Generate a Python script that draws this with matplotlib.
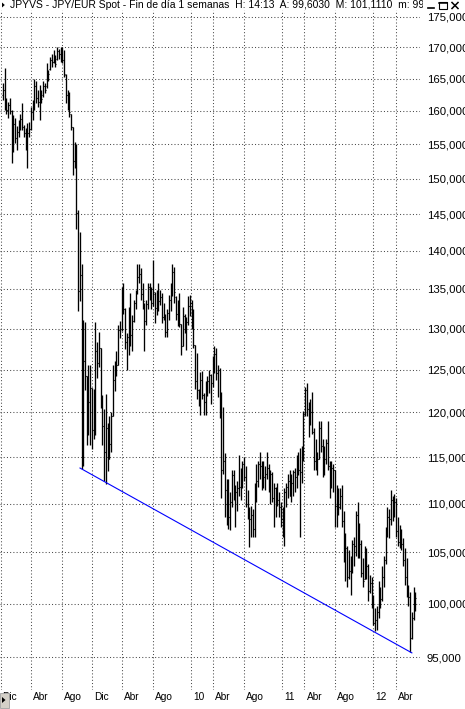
import matplotlib
matplotlib.use("Agg")
import matplotlib.pyplot as plt
import matplotlib.dates as mdates
from matplotlib.lines import Line2D
from matplotlib.patches import Rectangle, Polygon
from matplotlib.ticker import FixedLocator, FixedFormatter, NullLocator
import pandas as pd

plt.rcParams["font.family"] = ["Liberation Sans", "DejaVu Sans"]
plt.rcParams["lines.scale_dashes"] = False

# Weekly JPY/EUR bars, first week starting 2007-12-10
first_week = "2007-12-10"

highs = [
    164.3, 166.7, 162.0, 161.4, 162.0, 160.1, 159.4, 158.9, 157.7, 158.6,
    159.6, 161.2, 157.9, 157.4, 158.1, 158.3, 160.6, 161.7, 165.0, 164.7,
    163.2, 164.0, 163.2, 164.7, 164.3, 167.5, 166.4, 168.4, 169.0, 169.5,
    168.8, 170.0, 169.8, 170.1, 170.0, 169.5, 165.8, 163.2, 162.9, 159.6,
    157.6, 155.3, 155.1, 145.6, 142.5, 138.3, 131.1, 130.8, 124.3, 125.6,
    125.6, 122.8, 122.7, 130.8, 128.3, 129.6, 127.6, 122.0, 120.4, 122.1,
    118.8, 119.6, 120.0, 125.6, 126.0, 127.2, 130.5, 131.0, 135.3, 135.8,
    132.6, 129.5, 132.7, 134.5, 131.7, 133.6, 134.9, 138.3, 138.3, 137.7,
    135.8, 133.2, 133.6, 135.8, 135.8, 135.3, 138.8, 134.6, 134.9, 135.8,
    134.9, 134.5, 133.2, 131.8, 132.4, 134.2, 135.8, 138.3, 137.8, 134.1,
    133.6, 134.5, 130.6, 132.7, 131.8, 131.4, 134.1, 134.2, 133.6, 132.4,
    128.0, 127.0, 122.7, 124.7, 124.8, 122.3, 123.6, 124.3, 125.0, 124.5,
    126.6, 127.8, 127.6, 125.6, 125.2, 122.4, 120.6, 115.4, 112.6, 112.6,
    111.2, 113.6, 113.6, 112.0, 112.4, 115.2, 113.8, 114.6, 115.0, 114.0,
    111.4, 109.6, 109.8, 109.4, 112.2, 114.2, 114.6, 115.6, 114.6, 114.6,
    114.0, 115.6, 114.2, 113.6, 113.4, 112.2, 111.8, 112.2, 111.2, 110.2,
    109.6, 111.6, 112.2, 113.2, 113.6, 113.2, 113.6, 113.8, 115.2, 115.6,
    116.0, 116.2, 120.2, 123.0, 123.4, 121.2, 121.6, 122.4, 118.2, 117.0,
    115.6, 119.0, 119.0, 117.0, 116.2, 117.0, 119.0, 114.6, 114.6, 114.2,
    113.6, 112.0, 111.6, 111.6, 112.0, 109.2, 107.0, 105.6, 105.2, 104.6,
    106.2, 106.6, 109.2, 110.2, 108.0, 106.2, 104.4, 105.6, 105.4, 103.8,
    102.8, 102.6, 100.8, 99.6, 99.8, 102.2, 101.6, 103.6, 104.6, 107.6,
    109.6, 109.4, 111.4, 110.8, 111.0, 110.6, 108.6, 107.8, 107.4, 106.4,
    105.4, 104.4, 101.8, 101.1, 99.2, 101.6, 101.111,
]

lows = [
    161.7, 160.1, 159.6, 158.9, 159.5, 152.3, 153.9, 155.2, 154.2, 156.1,
    157.1, 157.1, 156.1, 154.2, 151.5, 156.1, 157.1, 158.6, 160.1, 161.2,
    160.6, 158.6, 161.2, 162.1, 162.7, 163.6, 164.6, 166.4, 166.9, 167.5,
    166.9, 168.0, 168.2, 167.7, 167.5, 165.2, 161.2, 160.1, 159.1, 157.1,
    150.5, 151.5, 142.9, 132.2, 133.4, 113.7, 114.0, 122.6, 116.3, 117.4,
    116.3, 115.9, 117.0, 117.4, 124.0, 125.3, 120.5, 116.3, 112.4, 112.1,
    113.5, 114.8, 115.5, 119.6, 122.5, 124.2, 125.5, 128.8, 129.7, 131.8,
    127.5, 125.0, 126.7, 127.8, 127.3, 130.8, 132.4, 134.4, 135.8, 133.6,
    132.4, 127.3, 130.5, 132.4, 133.6, 132.4, 132.8, 130.7, 131.7, 132.2,
    133.0, 130.7, 131.1, 128.9, 128.9, 131.1, 132.2, 134.1, 133.2, 131.1,
    130.3, 130.2, 126.7, 127.8, 129.5, 127.4, 130.5, 131.6, 129.9, 127.6,
    122.7, 121.5, 120.7, 119.7, 121.5, 119.7, 119.7, 121.9, 122.3, 121.0,
    123.0, 124.6, 123.8, 121.8, 119.4, 110.6, 113.2, 108.6, 107.8, 107.4,
    107.3, 109.6, 110.4, 107.6, 109.2, 110.8, 110.4, 111.6, 112.4, 109.6,
    108.4, 105.5, 106.6, 106.6, 106.6, 110.2, 111.8, 112.6, 111.4, 111.6,
    111.4, 112.6, 111.2, 110.0, 110.2, 107.6, 108.6, 109.8, 108.6, 107.6,
    106.6, 105.6, 109.6, 110.6, 110.8, 110.2, 110.8, 111.2, 111.6, 113.0,
    106.6, 112.2, 114.6, 119.6, 119.6, 117.2, 118.6, 117.6, 113.6, 113.6,
    113.0, 114.8, 115.6, 112.8, 113.0, 114.2, 113.6, 110.6, 111.6, 111.2,
    107.6, 107.6, 108.8, 109.4, 107.6, 104.0, 102.2, 101.6, 102.4, 100.8,
    103.0, 103.6, 104.6, 104.4, 104.4, 102.6, 101.6, 102.4, 102.4, 100.2,
    101.0, 99.6, 98.0, 97.4, 97.5, 98.6, 99.6, 100.2, 101.6, 103.8,
    106.6, 106.4, 107.8, 108.2, 108.6, 106.6, 105.6, 105.4, 105.2, 103.6,
    101.8, 100.6, 99.8, 95.5, 96.7, 98.4, 99.3,
]

opens = [
    162.4, 163.2, 161.6, 160.2, 160.9, 160.0, 154.5, 158.0, 155.9, 156.8,
    157.6, 158.8, 157.5, 156.6, 155.0, 156.6, 157.2, 159.9, 160.6, 163.9,
    162.0, 161.4, 162.7, 162.4, 163.9, 163.9, 165.4, 166.6, 167.9, 167.6,
    168.6, 168.2, 169.4, 168.9, 169.8, 168.0, 165.6, 162.4, 161.1, 159.6,
    157.6, 152.6, 153.8, 145.2, 134.8, 136.8, 116.2, 126.0, 124.2, 118.6,
    121.2, 122.8, 118.0, 121.4, 127.2, 125.8, 127.6, 121.4, 118.4, 115.6,
    118.2, 114.8, 116.4, 119.6, 123.8, 124.8, 125.6, 129.8, 130.0, 134.2,
    132.4, 128.4, 128.9, 131.6, 129.2, 131.0, 133.2, 134.6, 136.6, 136.9,
    134.3, 132.4, 131.0, 133.1, 135.2, 134.4, 133.2, 134.4, 132.6, 134.2,
    133.4, 134.0, 131.4, 131.6, 129.6, 131.9, 133.6, 135.1, 137.2, 134.0,
    131.8, 132.9, 130.6, 127.8, 131.6, 130.0, 130.8, 132.8, 133.2, 130.6,
    128.0, 123.6, 122.6, 121.4, 123.8, 122.0, 121.2, 122.8, 123.6, 124.4,
    123.4, 126.2, 126.9, 124.6, 124.9, 121.4, 113.6, 114.6, 111.4, 111.0,
    108.6, 110.2, 113.0, 110.8, 111.2, 111.6, 111.8, 112.8, 114.2, 112.8,
    110.0, 108.6, 108.4, 108.8, 107.4, 111.8, 112.4, 114.2, 114.0, 113.2,
    112.8, 113.2, 113.8, 111.6, 113.2, 110.6, 111.6, 110.2, 110.4, 109.6,
    108.4, 107.4, 111.2, 111.8, 112.4, 110.8, 112.2, 113.4, 112.8, 114.8,
    113.6, 113.4, 115.0, 119.8, 122.6, 120.4, 120.8, 120.0, 117.8, 114.6,
    115.4, 114.8, 118.2, 116.2, 115.4, 114.8, 116.6, 114.0, 112.4, 113.8,
    113.6, 109.8, 110.6, 109.6, 110.8, 108.2, 104.4, 105.4, 102.6, 103.2,
    104.0, 105.8, 105.6, 108.8, 105.6, 105.8, 103.0, 102.4, 104.2, 103.6,
    101.2, 102.0, 99.8, 98.2, 98.4, 99.2, 101.4, 100.4, 102.6, 104.2,
    107.4, 108.6, 108.4, 110.4, 109.6, 110.2, 107.2, 106.0, 106.6, 105.8,
    104.2, 102.6, 101.0, 100.6, 96.8, 98.6, 99.603,
]

closes = [
    163.2, 164.4, 160.2, 160.9, 160.0, 154.5, 158.0, 155.9, 156.8, 157.6,
    158.8, 157.5, 156.6, 155.0, 156.6, 157.2, 159.9, 160.6, 163.9, 162.0,
    161.4, 162.7, 161.8, 163.9, 163.2, 166.7, 165.8, 167.9, 167.6, 168.9,
    167.4, 169.4, 168.9, 169.8, 168.0, 165.8, 162.4, 161.1, 159.9, 157.6,
    152.6, 153.8, 145.2, 134.8, 136.8, 116.2, 126.0, 124.2, 118.6, 121.2,
    122.8, 118.0, 121.4, 127.2, 125.8, 127.6, 121.4, 118.4, 115.6, 118.2,
    114.8, 116.4, 119.6, 123.8, 124.8, 125.6, 129.8, 130.0, 134.2, 132.4,
    128.4, 128.9, 131.6, 129.2, 131.0, 133.2, 134.6, 136.6, 136.9, 134.3,
    133.4, 131.0, 133.1, 135.2, 134.4, 133.2, 134.6, 132.6, 134.2, 133.4,
    134.0, 131.4, 131.6, 129.6, 131.9, 133.6, 135.1, 137.2, 134.6, 131.8,
    132.9, 130.6, 127.8, 131.6, 130.0, 130.8, 132.8, 133.2, 130.6, 128.0,
    123.6, 122.6, 121.4, 123.8, 122.0, 121.2, 122.8, 123.6, 124.4, 123.4,
    126.2, 126.9, 124.6, 124.9, 121.4, 113.6, 114.6, 111.4, 111.0, 108.6,
    110.2, 113.0, 110.8, 111.2, 111.6, 111.8, 112.8, 114.2, 112.8, 110.0,
    108.6, 108.4, 108.8, 107.4, 111.8, 112.4, 114.2, 114.0, 113.2, 112.8,
    113.2, 113.8, 111.6, 113.2, 110.6, 111.6, 110.2, 110.4, 109.6, 108.4,
    107.4, 111.2, 111.8, 112.4, 110.8, 112.2, 113.4, 112.8, 114.8, 113.6,
    113.4, 115.0, 119.8, 122.6, 120.4, 120.8, 120.0, 117.8, 114.6, 115.4,
    114.8, 118.2, 116.2, 115.4, 114.8, 116.6, 114.0, 112.4, 113.8, 113.6,
    109.8, 110.6, 109.6, 110.8, 108.2, 104.4, 105.4, 102.6, 103.2, 104.0,
    105.8, 105.6, 108.8, 105.6, 105.8, 103.0, 102.2, 104.2, 103.6, 101.2,
    102.0, 99.8, 98.2, 98.4, 99.2, 101.4, 100.4, 102.6, 104.2, 107.4,
    108.6, 108.4, 110.4, 109.6, 110.2, 107.2, 106.0, 106.6, 105.8, 104.2,
    102.6, 101.0, 100.6, 96.8, 98.6, 100.4, 100.5,
]

x_tick_dates = ["2007-12-01", "2008-04-01", "2008-08-01", "2008-12-01",
                "2009-04-01", "2009-08-01", "2010-01-01", "2010-04-01",
                "2010-08-01", "2011-01-01", "2011-04-01", "2011-08-01",
                "2012-01-01", "2012-04-01"]
x_tick_labels = ["Dic", "Abr", "Ago", "Dic", "Abr", "Ago", "10", "Abr",
                 "Ago", "11", "Abr", "Ago", "12", "Abr"]
y_ticks = [95, 100, 105, 110, 115, 120, 125, 130, 135, 140, 145, 150,
           155, 160, 165, 170, 175]

# support line under the lows
trend_dates = ["2008-10-14", "2012-06-04"]
trend_values = [113.8, 95.4]

symbol_title = "JPYVS - JPY/EUR Spot - Fin de día 1 semanas"
bar_time = "14:13"


def comma(v, nd):
    return f"{v:.{nd}f}".replace(".", ",")


W, H = 465, 709
fig = plt.figure(figsize=(W / 100, H / 100), dpi=100)
fig.patch.set_facecolor("white")


def fx(px):
    return px / W


def fy(py):
    return 1 - py / H


ax = fig.add_axes([0, fy(690), fx(420), (690 - 10) / H])
ax.set_facecolor("white")
for s in ax.spines.values():
    s.set_visible(False)

ax.set_yscale("log")
ax.set_ylim(92.08, 176.17)

dates = pd.date_range(first_week, periods=len(highs), freq="7D")
xd = mdates.date2num(dates.to_pydatetime())
x_left = mdates.date2num(pd.Timestamp("2007-11-28 14:00").to_pydatetime())
ax.set_xlim(x_left, x_left + 1682)

# OHLC bars
ax.vlines(xd, lows, highs, color="black", lw=0.95, zorder=3)
ax.hlines(opens, xd - 3.5, xd, color="black", lw=0.8, zorder=3)
ax.hlines(closes, xd, xd + 3.5, color="black", lw=0.8, zorder=3)

# trend line
tx = mdates.date2num(pd.to_datetime(trend_dates).to_pydatetime())
ax.plot(tx, trend_values, color="#0000ff", lw=0.8, zorder=4)

# grid / ticks
xt = mdates.date2num(pd.to_datetime(x_tick_dates).to_pydatetime())
ax.xaxis.set_major_locator(FixedLocator(xt))
ax.xaxis.set_minor_locator(NullLocator())
ax.tick_params(axis="x", length=0, labelbottom=False)

ax.yaxis.set_major_locator(FixedLocator(y_ticks))
ax.yaxis.set_minor_locator(NullLocator())
ax.yaxis.set_major_formatter(FixedFormatter([comma(v, 3) for v in y_ticks]))
ax.yaxis.tick_right()
ax.tick_params(axis="y", length=0, pad=5, labelsize=8.2, labelcolor="black")

ax.grid(True, which="major", color="#444444", lw=0.75,
        linestyle=(0, (0.72, 1.6)))
ax.set_axisbelow(True)

for d, lab in zip(xt, x_tick_labels):
    ax.annotate(lab, xy=(d, 0), xycoords=("data", "axes fraction"),
                xytext=(2, -7), textcoords="offset pixels",
                ha="left", va="center", fontsize=7.3, annotation_clip=False)

# window caption
title = (f"{symbol_title}  H: {bar_time}  A: {comma(opens[-1], 4)}  "
         f"M: {comma(highs[-1], 4)}  m: {comma(lows[-1], 4)}")
fig.text(fx(10), fy(5), title, ha="left", va="center", fontsize=7.5,
         color="black")

fig.add_artist(Polygon([(fx(2), fy(2.5)), (fx(2), fy(7.5)), (fx(4.8), fy(5))],
                       closed=True, transform=fig.transFigure,
                       facecolor="black", edgecolor="none", zorder=10))

# caption buttons
fig.add_artist(Rectangle((fx(423), fy(10)), fx(42), 10 / H,
                         transform=fig.transFigure, facecolor="white",
                         edgecolor="none", zorder=10))
fig.add_artist(Line2D([fx(428), fx(434)], [fy(8), fy(8)],
                      transform=fig.transFigure, color="black", lw=1.2,
                      zorder=11))
fig.add_artist(Rectangle((fx(439), fy(8.5)), fx(8), 6.5 / H,
                         transform=fig.transFigure, facecolor="none",
                         edgecolor="black", lw=0.8, zorder=11))
fig.add_artist(Line2D([fx(439), fx(447)], [fy(2.5), fy(2.5)],
                      transform=fig.transFigure, color="black", lw=1.1,
                      zorder=11))
fig.add_artist(Line2D([fx(452), fx(458)], [fy(2.5), fy(8.5)],
                      transform=fig.transFigure, color="black", lw=1.1,
                      zorder=11))
fig.add_artist(Line2D([fx(452), fx(458)], [fy(8.5), fy(2.5)],
                      transform=fig.transFigure, color="black", lw=1.1,
                      zorder=11))

# scroll button bottom-left
fig.add_artist(Rectangle((0, fy(708)), fx(9), 15 / H,
                         transform=fig.transFigure, facecolor="#d4d0c8",
                         edgecolor="#a0a0a0", lw=0.6, zorder=10))
fig.add_artist(Polygon([(fx(2), fy(697)), (fx(2), fy(703)), (fx(5.5), fy(700))],
                       closed=True, transform=fig.transFigure,
                       facecolor="black", edgecolor="none", zorder=11))

fig.savefig("out.png", dpi=100, facecolor="white")
